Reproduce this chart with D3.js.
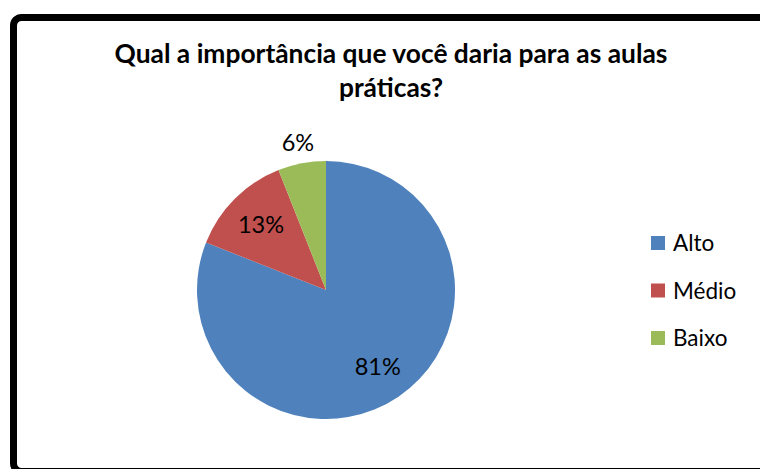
<!DOCTYPE html>
<html>
<head>
<meta charset="utf-8">
<script src="https://cdn.jsdelivr.net/npm/d3@7"></script>
<style>
  body { margin: 0; background: #fff; }
</style>
</head>
<body>
<script>
// data
const categories = ["Alto", "Médio", "Baixo"];
const values = [81, 13, 6];
const colors = ["#4F81BD", "#C0504D", "#9BBB59"];
const titleLines = ["Qual a importância que você daria para as aulas", "práticas?"];

const width = 760;
const height = 469;
const font = "Lato, 'Open Sans', sans-serif";

const svg = d3.select("body")
  .append("svg")
  .attr("width", width)
  .attr("height", height)
  .style("font-family", font);

// chart frame, runs off the right and bottom edges
svg.append("rect")
  .attr("x", 13.5)
  .attr("y", 17.5)
  .attr("width", 770)
  .attr("height", 454)
  .attr("rx", 8)
  .attr("fill", "#fff")
  .attr("stroke", "#000")
  .attr("stroke-width", 7);

// title, two lines, bold
const title = svg.append("g").attr("font-weight", "bold").attr("fill", "#000");
const t1 = title.append("text")
  .attr("x", 391)
  .attr("y", 63)
  .attr("text-anchor", "middle")
  .style("font-size", "22px")
  .text(titleLines[0]);
// scale font so the first line spans roughly the same width as the original
const w1 = t1.node().getComputedTextLength();
const titleSize = 22 * 553 / w1;
t1.style("font-size", titleSize + "px");
title.append("text")
  .attr("x", 391)
  .attr("y", 97)
  .attr("text-anchor", "middle")
  .style("font-size", titleSize + "px")
  .text(titleLines[1]);

// pie
const cx = 326, cy = 290, r = 129;
const pie = d3.pie().sort(null).value((d) => d)(values);
const arc = d3.arc().innerRadius(0).outerRadius(r);
const inLabel = d3.arc().innerRadius(92).outerRadius(92);
const outLabel = d3.arc().innerRadius(150).outerRadius(150);

const g = svg.append("g").attr("transform", `translate(${cx},${cy})`);

g.selectAll("path")
  .data(pie)
  .enter()
  .append("path")
  .attr("d", arc)
  .attr("fill", (d, i) => colors[i]);

g.selectAll("text")
  .data(pie)
  .enter()
  .append("text")
  .attr("transform", (d) => {
    const c = d.data < 10 ? outLabel.centroid(d) : inLabel.centroid(d);
    return `translate(${c[0]},${c[1]})`;
  })
  .attr("text-anchor", "middle")
  .attr("dy", "0.36em")
  .style("font-size", "23.5px")
  .attr("fill", "#000")
  .text((d) => d.data + "%");

// legend
const legendY = d3.scalePoint().domain(categories).range([243, 338]);
const legend = svg.append("g")
  .selectAll("g")
  .data(categories)
  .enter()
  .append("g")
  .attr("transform", (d) => `translate(651,${legendY(d)})`);

legend.append("rect")
  .attr("x", 0)
  .attr("y", -7)
  .attr("width", 14)
  .attr("height", 14)
  .attr("fill", (d, i) => colors[i]);

legend.append("text")
  .attr("x", 22)
  .attr("dy", "0.36em")
  .style("font-size", "22.5px")
  .attr("fill", "#000")
  .text((d) => d);
</script>
</body>
</html>
